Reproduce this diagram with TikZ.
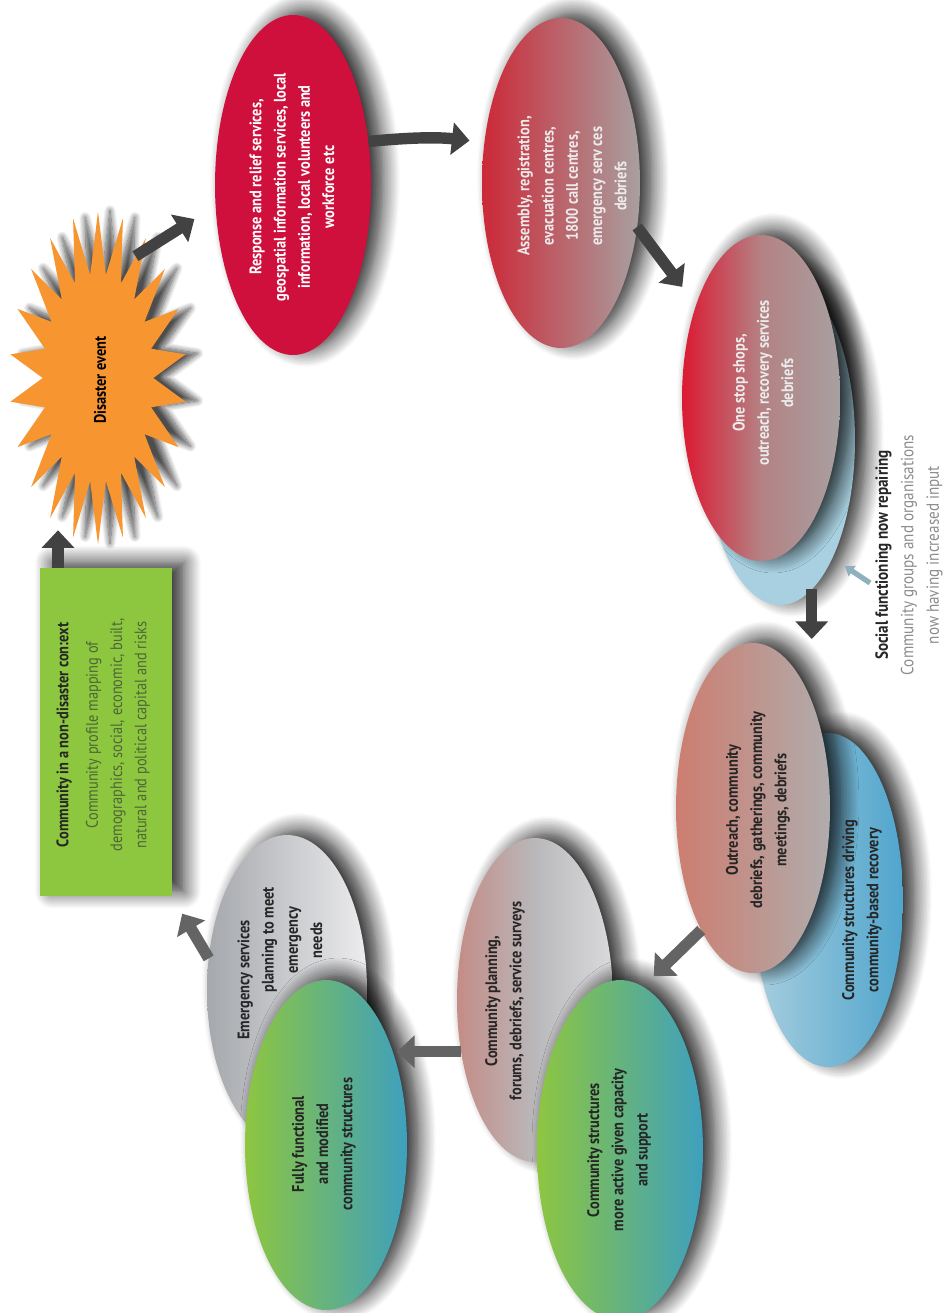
\documentclass[tikz,border=0pt]{standalone}
\usepackage{fontspec}
\newfontfamily\cyclefont{PT Sans}[FakeStretch=0.86]
\usetikzlibrary{shapes.geometric,arrows.meta,shadows.blur}

\definecolor{crimson}{RGB}{207,16,60}
\definecolor{stone}{RGB}{168,160,160}
\definecolor{silver}{RGB}{236,236,238}
\definecolor{burst}{RGB}{247,150,49}
\definecolor{leaf}{RGB}{141,198,63}
\definecolor{lagoon}{RGB}{62,160,190}
\definecolor{skyblue}{RGB}{168,208,224}
\definecolor{arrowdark}{RGB}{66,66,66}
\definecolor{arrowgrey}{RGB}{100,100,100}
\definecolor{olive}{RGB}{78,102,56}

\tikzset{
  soft shadow/.style={blur shadow={shadow xshift=0.24cm, shadow yshift=0.1cm,
      shadow blur radius=0.34cm, shadow opacity=85, shadow blur steps=12}},
  phase/.style 2 args={ellipse, inner sep=0pt, outer sep=0pt,
    minimum width=#1, minimum height=#2, soft shadow},
  caption/.style={rotate=90, align=center, inner sep=0pt,
    font=\cyclefont\bfseries\fontsize{9.5}{13.8}\selectfont},
  flow/.style={line width=6.5pt, draw=arrowdark,
    -{Triangle[width=18pt,length=10pt]}},
}

\begin{document}
\begin{tikzpicture}[x=0.02cm, y=-0.02cm]
	\useasboundingbox (0,0) rectangle (949,1313);
	% starting point
	\node[star, star points=22, star point ratio=1.6, minimum size=3.54cm,
		yscale=1.88, transform shape, fill=burst, inner sep=0pt,
		blur shadow={shadow xshift=0.24cm, shadow yshift=0.02cm,
			shadow blur radius=0.12cm, shadow opacity=70, shadow blur steps=12}] (event) at (98,378) {};
	\node[rectangle, fill=leaf, minimum width=2.64cm, minimum height=6.58cm,
		inner sep=0pt, outer sep=0pt, soft shadow] (context) at (106,732) {};
	% response and recovery phases
	\node[phase={3.12cm}{6.8cm}, fill=crimson] (relief) at (293,185) {};
	\node[phase={3.16cm}{6.6cm}, left color={rgb,255:red,204;green,40;blue,55},
		right color=stone] (assembly) at (561,183) {};
	\node[phase={3.0cm}{6.6cm}, fill=skyblue] (repair) at (780,440) {};
	\node[phase={3.16cm}{6.52cm}, left color={rgb,255:red,220;green,25;blue,50},
		right color=stone, middle color={rgb,255:red,180;green,130;blue,132}] (shops) at (761,398) {};
	\node[phase={3.0cm}{6.68cm}, left color={rgb,255:red,168;green,206;blue,222},
		right color={rgb,255:red,80;green,165;blue,205}] (driving) at (828,900) {};
	\node[phase={3.08cm}{6.6cm}, left color={rgb,255:red,205;green,125;blue,112},
		right color={rgb,255:red,176;green,172;blue,172}] (outreach) at (753,808) {};
	\node[phase={3.12cm}{6.48cm}, left color={rgb,255:red,196;green,140;blue,135},
		right color={rgb,255:red,218;green,218;blue,220},
		middle color={rgb,255:red,185;green,184;blue,186}] (planning) at (535,1000) {};
	\node[phase={3.32cm}{6.8cm}, left color=leaf, right color=lagoon] (active) at (620,1150) {};
	\node[phase={3.2cm}{6.2cm}, left color={rgb,255:red,165;green,168;blue,172},
		right color=silver] (emergency) at (287,990) {};
	\node[phase={3.24cm}{6.6cm}, left color=leaf, right color=lagoon] (functional) at (326,1145) {};

	% connectors
	\draw[flow, shorten >=-0.34cm] ([xshift=0.36cm]context.north west)
		-- ([xshift=0.36cm]context.north west |- event.south);
	\draw[flow, shorten >=0.5cm] (event.60) -- (relief.195);
	\draw[flow, shorten >=0.3cm] (relief.30) to[bend left=6] (assembly.152);
	\draw[flow, shorten >=0.46cm] (assembly.-30) -- (shops.125);
	\draw[flow, shorten >=0.08cm] (repair.-78) -- (repair.-78 |- outreach.north);
	\draw[flow, draw=arrowgrey, shorten >=0.3cm] (outreach.247) -- (active.82.5);
	\draw[flow, draw=arrowgrey, shorten >=-0.2cm] (planning.215) -- (planning.215 -| functional.east);
	\draw[flow, draw=arrowgrey, shorten >=0.4cm] (emergency.158) -- (context.south east);

	% texts
	\node[caption] (event-t) at (100,380) {Disaster event};
	\node[caption, font=\cyclefont\fontsize{9.5}{13.8}\selectfont, text=olive] (context-t) at (103,735)
		{{\bfseries\color{black!85}Community in a non-disaster con:ext}\\[3pt]
		Community profile mapping of\\demographics, social, economic, built,\\natural and political capital and risks};
	\node[caption, text=white] (relief-t) at (292,187)
		{Response and relief services,\\geospatial information services, local\\information, local volunteers and\\workforce etc};
	\node[caption, text=white!92!black] (assembly-t) at (572,186)
		{Assembly, registration,\\evacuation centres,\\1800 call centres,\\emergency serv ces\\debriefs};
	\node[caption, text=white!92!black] (shops-t) at (763,383)
		{One stop shops,\\outreach, recovery services\\debriefs};
	\node[caption, text=black!85] (outreach-t) at (758,810)
		{Outreach, community\\debriefs, gatherings, community\\meetings, debriefs};
	\node[caption, text=black!85] (driving-t) at (862,910)
		{Community structures driving\\community-based recovery};
	\node[caption, text=black!85] (planning-t) at (505,1001)
		{Community planning,\\forums, debriefs, service surveys};
	\node[caption, text=black!85] (active-t) at (619,1150)
		{Community structures\\more active given capacity\\and support};
	\node[caption, text=black!85] (emergency-t) at (280,940)
		{Emergency services\hspace*{1.6cm}\\planning to meet\\emergency\\needs};
	\node[caption, text=black!85] (functional-t) at (324,1144)
		{Fully functional\\and modified\\community structures};

	% side note
	\node[caption, font=\cyclefont\fontsize{10}{14.5}\selectfont, text=black!45] (note) at (909,555)
		{{\bfseries\color{black!85}Social functioning now repairing}\\
		Community groups and organisations\\now having increased input};
	\draw[line width=3pt, draw=skyblue!85!black, -{Triangle[width=7pt,length=5pt]}, shorten >=0.3cm]
		([xshift=-0.1cm, yshift=-0.56cm]note.north) -- (repair.-66);
\end{tikzpicture}
\end{document}
